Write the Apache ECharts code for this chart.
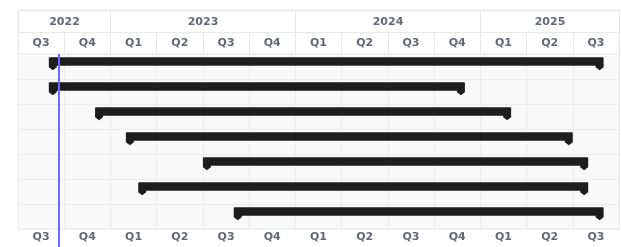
<!DOCTYPE html>
<html lang="en">
<head>
<meta charset="UTF-8">
<title>Timeline</title>
<script src="https://cdn.jsdelivr.net/npm/echarts@6/dist/echarts.min.js"></script>
<style>html,body{margin:0;padding:0;background:#fff}</style>
</head>
<body>
<div id="main" style="width:621px;height:247px;"></div>
<script>
// quarter columns, Q3 2022 .. Q3 2025
var quarters = ['Q3', 'Q4', 'Q1', 'Q2', 'Q3', 'Q4', 'Q1', 'Q2', 'Q3', 'Q4', 'Q1', 'Q2', 'Q3'];
var years = ['2022', '2023', '2024', '2025'];
var yearQuarters = [2, 4, 4, 3];
var rows = ['1', '2', '3', '4', '5', '6', '7'];
// months counted from 1 Jul 2022
var taskStart = [2, 2, 5, 7, 12, 7.8, 14];
var taskEnd = [38, 29, 32, 36, 37, 37, 38];
var today = 2.65;

var totalMonths = quarters.length * 3;
var textColor = '#636873';
var barColor = '#1d1d1d';
var font = 'DejaVu Sans';

var yearData = [];
var acc = 0;
for (var i = 0; i < years.length; i++) {
    yearData.push([acc * 3, (acc + yearQuarters[i]) * 3]);
    acc += yearQuarters[i];
}
var barData = rows.map(function (r, i) {
    return [i, taskStart[i], taskEnd[i]];
});

function renderYear(params, api) {
    var a = api.coord([api.value(0), 0]);
    var b = api.coord([api.value(1), 0]);
    var cs = params.coordSys;
    var x0 = Math.round(a[0]) + 0.5;
    var x1 = Math.round(b[0]) + 0.5;
    return {
        type: 'group',
        children: [{
            type: 'rect',
            shape: { x: x0, y: cs.y + 0.5, width: x1 - x0, height: cs.height },
            style: { fill: '#fff', stroke: '#e8e8e8', lineWidth: 1 }
        }, {
            type: 'text',
            x: (x0 + x1) / 2,
            y: cs.y + cs.height / 2 + 1,
            style: {
                text: years[params.dataIndex],
                fill: textColor,
                font: 'bold 11px "' + font + '"',
                align: 'center',
                verticalAlign: 'middle'
            }
        }]
    };
}

function renderBar(params, api) {
    var s = api.coord([api.value(1), api.value(0)]);
    var e = api.coord([api.value(2), api.value(0)]);
    var rowH = api.size([0, 1])[1];
    var top = s[1] - rowH / 2 + 3.3;
    var bh = 8.5;
    var bot = top + bh;
    var x0 = s[0], x1 = e[0];
    return {
        type: 'group',
        children: [{
            type: 'rect',
            shape: { x: x0, y: top, width: x1 - x0, height: bh, r: 1 },
            style: { fill: barColor }
        }, {
            type: 'polygon',
            shape: { points: [[x0, bot - 1], [x0, bot + 1.5], [x0 + 4, bot + 4.5], [x0 + 8, bot + 1.5], [x0 + 8, bot - 1]] },
            style: { fill: barColor }
        }, {
            type: 'polygon',
            shape: { points: [[x1, bot - 1], [x1, bot + 1.5], [x1 - 4, bot + 4.5], [x1 - 8, bot + 1.5], [x1 - 8, bot - 1]] },
            style: { fill: barColor }
        }]
    };
}

var todayLine = {
    silent: true,
    symbol: ['none', 'none'],
    label: { show: false },
    lineStyle: { color: '#6e6aff', width: 2, type: 'solid' },
    data: [{ xAxis: today }]
};

var quarterLabel = {
    inside: true,
    margin: 6,
    color: textColor,
    fontWeight: 'bold',
    fontSize: 11,
    fontFamily: font
};

var chartDom = document.getElementById('main');
var myChart = echarts.init(chartDom);
var option = {
    animation: false,
    backgroundColor: '#fff',
    grid: [
        { left: 18, right: 2, top: 10, height: 22, show: true, backgroundColor: '#fff', borderColor: '#e8e8e8' },
        { left: 18, right: 2, top: 32, height: 22, show: true, backgroundColor: '#fff', borderColor: '#e8e8e8' },
        { left: 18, right: 2, top: 54, height: 175, show: true, backgroundColor: '#f9f9f9', borderColor: '#ededed' },
        { left: 18, right: 2, top: 229, height: 18, show: false }
    ],
    xAxis: [
        { gridIndex: 0, type: 'value', min: 0, max: totalMonths, show: false },
        {
            gridIndex: 1, type: 'category', data: quarters, position: 'top',
            axisLine: { show: false }, axisTick: { show: false },
            axisLabel: quarterLabel,
            splitLine: { show: true, lineStyle: { color: '#e8e8e8' } }
        },
        {
            gridIndex: 2, type: 'value', min: 0, max: totalMonths, interval: 3,
            axisLine: { show: false }, axisTick: { show: false }, axisLabel: { show: false },
            splitLine: { show: true, lineStyle: { color: '#ededed' } }
        },
        {
            gridIndex: 3, type: 'category', data: quarters, position: 'top',
            axisLine: { show: false }, axisTick: { show: false },
            axisLabel: Object.assign({}, quarterLabel, { margin: 3 }),
            splitLine: { show: false }
        },
        { gridIndex: 3, type: 'value', min: 0, max: totalMonths, position: 'bottom', show: false }
    ],
    yAxis: [
        { gridIndex: 0, type: 'value', min: 0, max: 1, show: false },
        { gridIndex: 1, type: 'value', min: 0, max: 1, show: false },
        {
            gridIndex: 2, type: 'category', data: rows, inverse: true,
            axisLine: { show: false }, axisTick: { show: false }, axisLabel: { show: false },
            splitLine: { show: true, lineStyle: { color: '#ededed' } }
        },
        { gridIndex: 3, type: 'value', min: 0, max: 1, show: false }
    ],
    series: [
        {
            type: 'custom', xAxisIndex: 0, yAxisIndex: 0,
            renderItem: renderYear, data: yearData, silent: true
        },
        {
            type: 'custom', xAxisIndex: 2, yAxisIndex: 2,
            renderItem: renderBar, encode: { x: [1, 2], y: 0 },
            data: barData, markLine: todayLine
        },
        {
            type: 'line', xAxisIndex: 4, yAxisIndex: 3,
            data: [], markLine: todayLine
        }
    ]
};

myChart.setOption(option);
</script>
</body>
</html>
